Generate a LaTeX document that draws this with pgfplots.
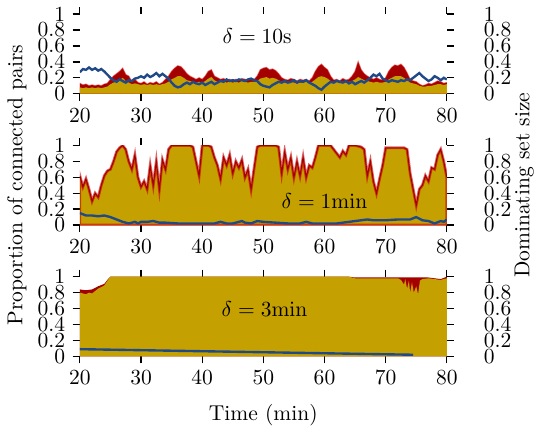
\documentclass[border=0pt]{standalone}
\usepackage{pgfplots}
\pgfplotsset{compat=1.18}
\definecolor{gold}{HTML}{C4A000}
\definecolor{dred}{HTML}{A40000}
\definecolor{lred}{HTML}{CC0000}
\definecolor{dblue}{HTML}{204A87}

\pgfplotsset{
  panel/.style={
    width=170.5pt, height=37pt, scale only axis,
    xmin=20, xmax=80, ymin=0, ymax=1,
    axis line style={draw=none},
    tick align=outside, major tick length=3.3pt,
    tick style={black, line width=0.6pt},
    xtick={20,30,...,80}, ytick={0,0.2,...,1},
  },
  leftax/.style={panel, xtick pos=both, xticklabel pos=lower, ytick pos=left, yticklabel pos=left,
    ylabel shift=-1.7pt, xlabel shift=2pt},
  rightax/.style={panel, xtick=\empty, ytick pos=right, yticklabel pos=right,
    yticklabel style={xshift=10.4pt}, ylabel shift=-5.4pt},
}

\begin{document}
\begin{tikzpicture}
% ---- delta = 10s ----
\begin{axis}[leftax, at={(0,0)}]
\addplot[fill=dred, draw=lred, draw opacity=0.5, line width=0.6pt] coordinates {
(20,.13)(20.5,.11)(21,.12)(21.5,.10)(22,.11)(22.5,.10)(23,.11)(23.5,.10)(24,.12)(24.5,.13)
(25,.18)(25.5,.22)(26,.25)(26.5,.28)(27,.32)(27.5,.24)(28,.22)(28.5,.15)(29,.18)(29.5,.14)
(30,.13)(30.5,.15)(31,.12)(31.5,.14)(32,.13)(32.5,.15)(33,.12)(33.5,.14)(34,.18)(34.5,.22)
(35,.28)(35.5,.32)(36,.35)(36.5,.34)(37,.30)(37.5,.25)(38,.22)(38.5,.20)(39,.18)(39.5,.20)
(40,.18)(40.5,.22)(41,.28)(41.5,.30)(42,.22)(42.5,.20)(43,.18)(43.5,.19)(44,.17)(44.5,.18)
(45,.16)(45.5,.18)(46,.17)(46.5,.19)(47,.18)(47.5,.17)(48,.19)(48.5,.18)(49,.22)(49.5,.30)
(50,.32)(50.5,.33)(51,.30)(51.5,.31)(52,.29)(52.5,.25)(53,.20)(53.5,.18)(54,.17)(54.5,.19)
(55,.18)(55.5,.16)(56,.18)(56.5,.17)(57,.18)(57.5,.16)(58,.20)(58.5,.28)(59,.34)(59.5,.37)
(60,.33)(60.5,.30)(61,.22)(61.5,.17)(62,.18)(62.5,.16)(63,.19)(63.5,.17)(64,.18)(64.5,.22)
(65,.28)(65.5,.40)(66,.30)(66.5,.25)(67,.22)(67.5,.20)(68,.18)(68.5,.20)(69,.18)(69.5,.17)
(70,.20)(70.5,.28)(71,.33)(71.5,.36)(72,.35)(72.5,.37)(73,.33)(73.5,.26)(74,.18)(74.5,.16)
(75,.15)(75.5,.12)(76,.10)(76.5,.11)(77,.13)(77.5,.12)(78,.14)(78.5,.16)(79,.15)(79.5,.13)
(80,.14)} \closedcycle;
\addplot[fill=gold, draw=none] coordinates {
(20,.08)(20.5,.07)(21,.08)(21.5,.07)(22,.08)(22.5,.07)(23,.08)(23.5,.07)(24,.08)(24.5,.09)
(25,.12)(25.5,.14)(26,.15)(26.5,.17)(27,.20)(27.5,.16)(28,.14)(28.5,.12)(29,.13)(29.5,.12)
(30,.11)(30.5,.12)(31,.11)(31.5,.12)(32,.11)(32.5,.12)(33,.11)(33.5,.12)(34,.13)(34.5,.15)
(35,.18)(35.5,.20)(36,.22)(36.5,.22)(37,.20)(37.5,.17)(38,.16)(38.5,.15)(39,.14)(39.5,.15)
(40,.14)(40.5,.16)(41,.19)(41.5,.21)(42,.17)(42.5,.15)(43,.15)(43.5,.16)(44,.14)(44.5,.15)
(45,.14)(45.5,.15)(46,.14)(46.5,.16)(47,.15)(47.5,.14)(48,.15)(48.5,.15)(49,.16)(49.5,.19)
(50,.20)(50.5,.21)(51,.19)(51.5,.20)(52,.19)(52.5,.17)(53,.15)(53.5,.14)(54,.14)(54.5,.15)
(55,.14)(55.5,.13)(56,.14)(56.5,.14)(57,.15)(57.5,.13)(58,.15)(58.5,.18)(59,.21)(59.5,.22)
(60,.21)(60.5,.19)(61,.16)(61.5,.14)(62,.15)(62.5,.13)(63,.15)(63.5,.14)(64,.15)(64.5,.16)
(65,.18)(65.5,.21)(66,.19)(66.5,.17)(67,.16)(67.5,.15)(68,.14)(68.5,.15)(69,.14)(69.5,.14)
(70,.15)(70.5,.18)(71,.20)(71.5,.22)(72,.22)(72.5,.22)(73,.20)(73.5,.17)(74,.14)(74.5,.13)
(75,.12)(75.5,.10)(76,.09)(76.5,.09)(77,.10)(77.5,.10)(78,.11)(78.5,.12)(79,.12)(79.5,.11)
(80,.12)} \closedcycle;
\node at (axis cs:49,0.72) {$\delta = 10\mathrm{s}$};
\end{axis}
\begin{axis}[rightax, at={(0,0)}]
\addplot[dblue, line width=1.1pt] coordinates {
(20,.27)(20.5,.31)(21,.30)(21.5,.33)(22,.30)(22.5,.32)(23,.29)(23.5,.31)(24,.28)(24.5,.24)
(25,.20)(25.5,.17)(26,.15)(26.5,.18)(27,.16)(27.5,.14)(28,.17)(28.5,.16)(29,.19)(29.5,.20)
(30,.22)(30.5,.20)(31,.24)(31.5,.21)(32,.23)(32.5,.26)(33,.22)(33.5,.25)(34,.22)(34.5,.19)
(35,.14)(35.5,.10)(36,.08)(36.5,.09)(37,.12)(37.5,.14)(38,.12)(38.5,.15)(39,.13)(39.5,.12)
(40,.14)(40.5,.11)(41,.13)(41.5,.15)(42,.12)(42.5,.14)(43,.16)(43.5,.15)(44,.18)(44.5,.16)
(45,.17)(45.5,.16)(46,.18)(46.5,.17)(47,.16)(47.5,.18)(48,.19)(48.5,.17)(49,.16)(49.5,.12)
(50,.10)(50.5,.09)(51,.08)(51.5,.11)(52,.13)(52.5,.15)(53,.14)(53.5,.16)(54,.14)(54.5,.15)
(55,.17)(55.5,.14)(56,.16)(56.5,.15)(57,.17)(57.5,.14)(58,.12)(58.5,.10)(59,.07)(59.5,.05)
(60,.09)(60.5,.12)(61,.15)(61.5,.14)(62,.16)(62.5,.15)(63,.14)(63.5,.16)(64,.13)(64.5,.15)
(65,.12)(65.5,.14)(66,.16)(66.5,.14)(67,.17)(67.5,.20)(68,.24)(68.5,.22)(69,.25)(69.5,.19)
(70,.17)(70.5,.15)(71,.17)(71.5,.16)(72,.15)(72.5,.17)(73,.16)(73.5,.18)(74,.17)(74.5,.20)
(75,.23)(75.5,.26)(76,.22)(76.5,.19)(77,.16)(77.5,.18)(78,.22)(78.5,.20)(79,.17)(79.5,.20)
(80,.18)};
\end{axis}

% ---- delta = 1min ----
\begin{axis}[leftax, at={(0,-61pt)}, ylabel={Proportion of connected pairs}]
\addplot[fill=gold, draw=lred, draw opacity=0.6, line width=1.3pt] coordinates {
(20,.62)(20.5,.48)(21,.58)(21.5,.45)(22,.30)(22.5,.40)(23,.35)(23.5,.50)(24,.62)(24.5,.68)
(25,.70)(25.5,.80)(26,.92)(26.5,.97)(27,1.0)(27.5,.95)(28,.80)(28.5,.70)(29,.88)(29.5,.60)
(30,.48)(30.5,.55)(31,.45)(31.5,.75)(32,.50)(32.5,.80)(33,.45)(33.5,.82)(34,.70)(34.5,.95)
(35,1.0)(36,1.0)(37,1.0)(38,1.0)(38.5,.98)(39,.80)(39.5,.62)(40,1.0)(40.5,1.0)(41,1.0)
(41.5,.98)(42,.85)(42.5,.75)(43,.58)(43.5,.85)(44,.75)(44.5,.88)(45,.65)(45.5,.80)(46,.72)
(46.5,.82)(47,.60)(47.5,.70)(48,.45)(48.5,.72)(49,.98)(49.5,1.0)(50,1.0)(51,1.0)(52,1.0)
(52.5,.98)(53,.65)(53.5,.92)(54,.70)(54.5,.85)(55,.60)(55.5,.80)(56,.62)(56.5,.85)(57,.60)
(57.5,.75)(58,.72)(58.5,.85)(59,1.0)(60,1.0)(61,1.0)(61.5,.95)(62,.90)(62.5,.85)(63,.93)
(63.5,.88)(64,1.0)(65,1.0)(66,.98)(66.5,.95)(67,.62)(67.5,.80)(68,.55)(68.5,.40)(69,.58)
(69.5,.75)(70,.97)(71,.97)(72,.97)(73,.97)(73.5,.95)(74,.65)(74.5,.45)(75,.25)(75.5,.45)
(76,.50)(76.5,.62)(77,.55)(77.5,.72)(78,.70)(78.5,.88)(79,.95)(79.5,.80)(80,.60)} \closedcycle;
\addplot[dred, line width=0.5pt] coordinates {
(20,.62)(20.5,.48)(21,.58)(21.5,.45)(22,.30)(22.5,.40)(23,.35)(23.5,.50)(24,.62)(24.5,.68)
(25,.70)(25.5,.80)(26,.92)(26.5,.97)(27,1.0)(27.5,.95)(28,.80)(28.5,.70)(29,.88)(29.5,.60)
(30,.48)(30.5,.55)(31,.45)(31.5,.75)(32,.50)(32.5,.80)(33,.45)(33.5,.82)(34,.70)(34.5,.95)
(35,1.0)(36,1.0)(37,1.0)(38,1.0)(38.5,.98)(39,.80)(39.5,.62)(40,1.0)(40.5,1.0)(41,1.0)
(41.5,.98)(42,.85)(42.5,.75)(43,.58)(43.5,.85)(44,.75)(44.5,.88)(45,.65)(45.5,.80)(46,.72)
(46.5,.82)(47,.60)(47.5,.70)(48,.45)(48.5,.72)(49,.98)(49.5,1.0)(50,1.0)(51,1.0)(52,1.0)
(52.5,.98)(53,.65)(53.5,.92)(54,.70)(54.5,.85)(55,.60)(55.5,.80)(56,.62)(56.5,.85)(57,.60)
(57.5,.75)(58,.72)(58.5,.85)(59,1.0)(60,1.0)(61,1.0)(61.5,.95)(62,.90)(62.5,.85)(63,.93)
(63.5,.88)(64,1.0)(65,1.0)(66,.98)(66.5,.95)(67,.62)(67.5,.80)(68,.55)(68.5,.40)(69,.58)
(69.5,.75)(70,.97)(71,.97)(72,.97)(73,.97)(73.5,.95)(74,.65)(74.5,.45)(75,.25)(75.5,.45)
(76,.50)(76.5,.62)(77,.55)(77.5,.72)(78,.70)(78.5,.88)(79,.95)(79.5,.80)(80,.60)};
\node at (axis cs:60,0.3) {$\delta = 1\mathrm{min}$};
\end{axis}
\begin{axis}[rightax, at={(0,-61pt)}, ylabel={Dominating set size}]
\addplot[dblue, line width=1.1pt] coordinates {
(20,.15)(21,.12)(22,.12)(23,.11)(24,.12)(25,.10)(26,.07)(27,.04)(28,.02)(29,.04)
(29.5,.02)(30,.04)(31,.04)(32,.05)(33,.03)(34,.03)(36,.02)(38,.02)(40,.02)(42,.02)
(43,.04)(44,.02)(45,.02)(46,.04)(46.5,.05)(47,.03)(48,.02)(49,.05)(50,.04)(52,.03)
(54,.02)(56,.02)(57,.04)(58,.02)(60,.02)(62,.02)(64,.04)(66,.06)(67,.07)(68,.06)
(70,.06)(72,.07)(74,.07)(75,.10)(76,.06)(77,.05)(78,.02)(79,.05)(79.5,.04)(80,.07)};
\end{axis}

% ---- delta = 3min ----
\begin{axis}[leftax, at={(0,-122pt)}, xlabel={Time (min)}]
\addplot[fill=dred, draw=none] coordinates {
(20,.84)(21,.83)(22,.84)(22.5,.86)(23,.88)(24,.91)(24.5,.96)(25,1.0)(64,1.0)(65,.99)
(72,.99)(76,.99)(77,.99)(78,.98)(79,.97)(80,1.0)} \closedcycle;
\addplot[fill=gold, draw=none] coordinates {
(20,.80)(20.5,.79)(21,.78)(21.5,.80)(22,.79)(22.5,.82)(23,.85)(23.5,.87)(24,.89)(24.5,.95)
(25,1.0)(64,1.0)(65,.98)(72,.98)(72.5,.96)(73,.90)(73.2,.97)(73.5,.85)(73.8,.95)(74,.80)
(74.3,.93)(74.6,.80)(75,.88)(75.3,.78)(75.6,.95)(76,.97)(77,.98)(78,.97)(79,.96)(80,.98)} \closedcycle;
\node at (axis cs:50.2,0.6) {$\delta = 3\mathrm{min}$};
\end{axis}
\begin{axis}[rightax, at={(0,-122pt)}, name=r3]
\addplot[dblue, line width=1.1pt] coordinates {(20,.09)(74.5,.02)};
\end{axis}
\path ([xshift=48.4pt]r3.south east);
\end{tikzpicture}
\end{document}
